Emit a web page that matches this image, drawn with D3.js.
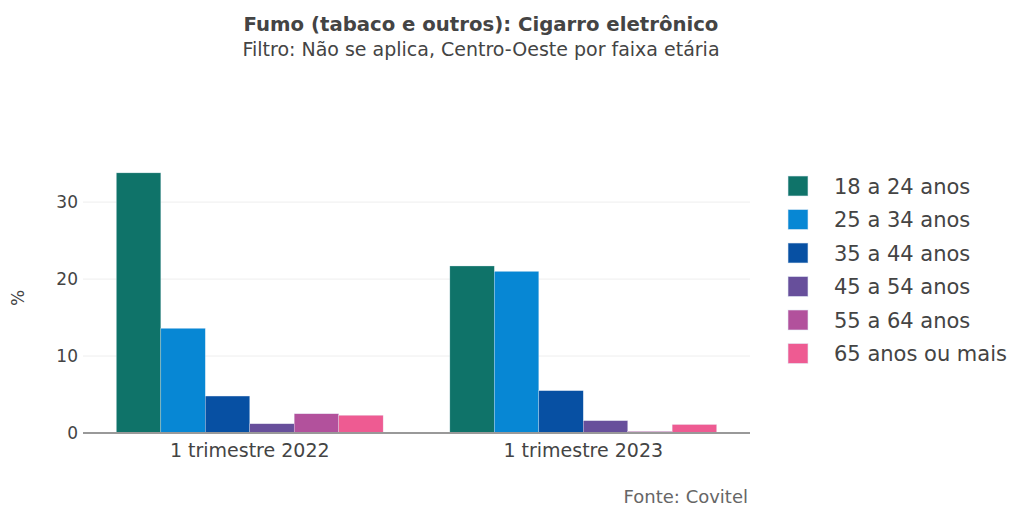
<!DOCTYPE html>
<html>
<head>
<script src="https://d3js.org/d3.v7.min.js"></script>
<style>
  body { margin: 0; background: #fff; }
  svg text { font-family: Verdana, "DejaVu Sans", sans-serif; fill: #444; }
</style>
</head>
<body>
<script>
const periods = ['1 trimestre 2022', '1 trimestre 2023'];
const ageGroups = ['18 a 24 anos', '25 a 34 anos', '35 a 44 anos', '45 a 54 anos', '55 a 64 anos', '65 anos ou mais'];
const values2022 = [33.8, 13.6, 4.8, 1.2, 2.5, 2.3];
const values2023 = [21.7, 21.0, 5.5, 1.6, 0.2, 1.1];
const colors = ['#0f7369', '#0787d4', '#0750a3', '#674f9b', '#b2519c', '#ee5b92'];
const yTicks = [0, 10, 20, 30];

const width = 1013, height = 508;
const margin = { left: 83, right: 263, top: 159, bottom: 75 };

const svg = d3.select('body').append('svg').attr('width', width).attr('height', height);

const x0 = d3.scaleBand().domain(periods).range([margin.left, width - margin.right]).paddingInner(0.2).paddingOuter(0.1);
const x1 = d3.scaleBand().domain(ageGroups).range([0, x0.bandwidth()]);
const y = d3.scaleLinear().domain([0, 35.6]).range([height - margin.bottom, margin.top]);

// gridlines
svg.append('g').selectAll('line').data(yTicks.filter(t => t > 0)).join('line')
  .attr('x1', margin.left).attr('x2', width - margin.right)
  .attr('y1', d => y(d)).attr('y2', d => y(d))
  .attr('stroke', '#eee').attr('stroke-width', 1);

// y tick labels
svg.append('g').selectAll('text').data(yTicks).join('text')
  .attr('x', 78).attr('y', d => y(d)).attr('dy', '0.36em')
  .attr('text-anchor', 'end').style('font-size', '17px').text(d => d);

// bars
const seriesByPeriod = [values2022, values2023];
const groups = svg.append('g').selectAll('g').data(periods).join('g')
  .attr('transform', d => `translate(${x0(d)},0)`);
groups.selectAll('rect').data((d, i) => ageGroups.map((a, j) => ({ age: a, value: seriesByPeriod[i][j], color: colors[j] })))
  .join('rect')
  .attr('x', d => x1(d.age)).attr('width', x1.bandwidth())
  .attr('y', d => y(d.value)).attr('height', d => y(0) - y(d.value))
  .attr('fill', d => d.color)
  .attr('stroke', 'rgba(229,236,246,0.6)').attr('stroke-width', 0.5);

// zero line
svg.append('line')
  .attr('x1', margin.left).attr('x2', width - margin.right)
  .attr('y1', y(0)).attr('y2', y(0))
  .attr('stroke', '#999').attr('stroke-width', 2);

// x labels
svg.append('g').selectAll('text').data(periods).join('text')
  .attr('x', d => x0(d) + x0.bandwidth() / 2).attr('y', 457)
  .attr('text-anchor', 'middle').style('font-size', '19px').text(d => d);

// y axis title
svg.append('text')
  .attr('transform', `translate(24,${(y(0) + y(35.6)) / 2 + 2}) rotate(-90)`)
  .attr('text-anchor', 'middle').style('font-size', '17px').text('%');

// title
svg.append('text').attr('x', 481).attr('y', 31).attr('text-anchor', 'middle')
  .style('font-size', '19.7px').style('font-weight', 'bold').text('Fumo (tabaco e outros): Cigarro eletrônico');
svg.append('text').attr('x', 481).attr('y', 56).attr('text-anchor', 'middle')
  .style('font-size', '19px').text('Filtro: Não se aplica, Centro-Oeste por faixa etária');

// legend
const legend = svg.append('g').selectAll('g').data(ageGroups).join('g')
  .attr('transform', (d, i) => `translate(788,${186 + i * 33.5})`);
legend.append('rect').attr('x', 0).attr('y', -10).attr('width', 20).attr('height', 20)
  .attr('fill', (d, i) => colors[i]).attr('stroke', 'rgba(229,236,246,0.6)').attr('stroke-width', 1);
legend.append('text').attr('x', 46).attr('dy', '0.36em').style('font-size', '21px').text(d => d);

// source
svg.append('text').attr('x', 748).attr('y', 503).attr('text-anchor', 'end')
  .style('font-size', '18px').style('fill', '#666').text('Fonte: Covitel');
</script>
</body>
</html>
